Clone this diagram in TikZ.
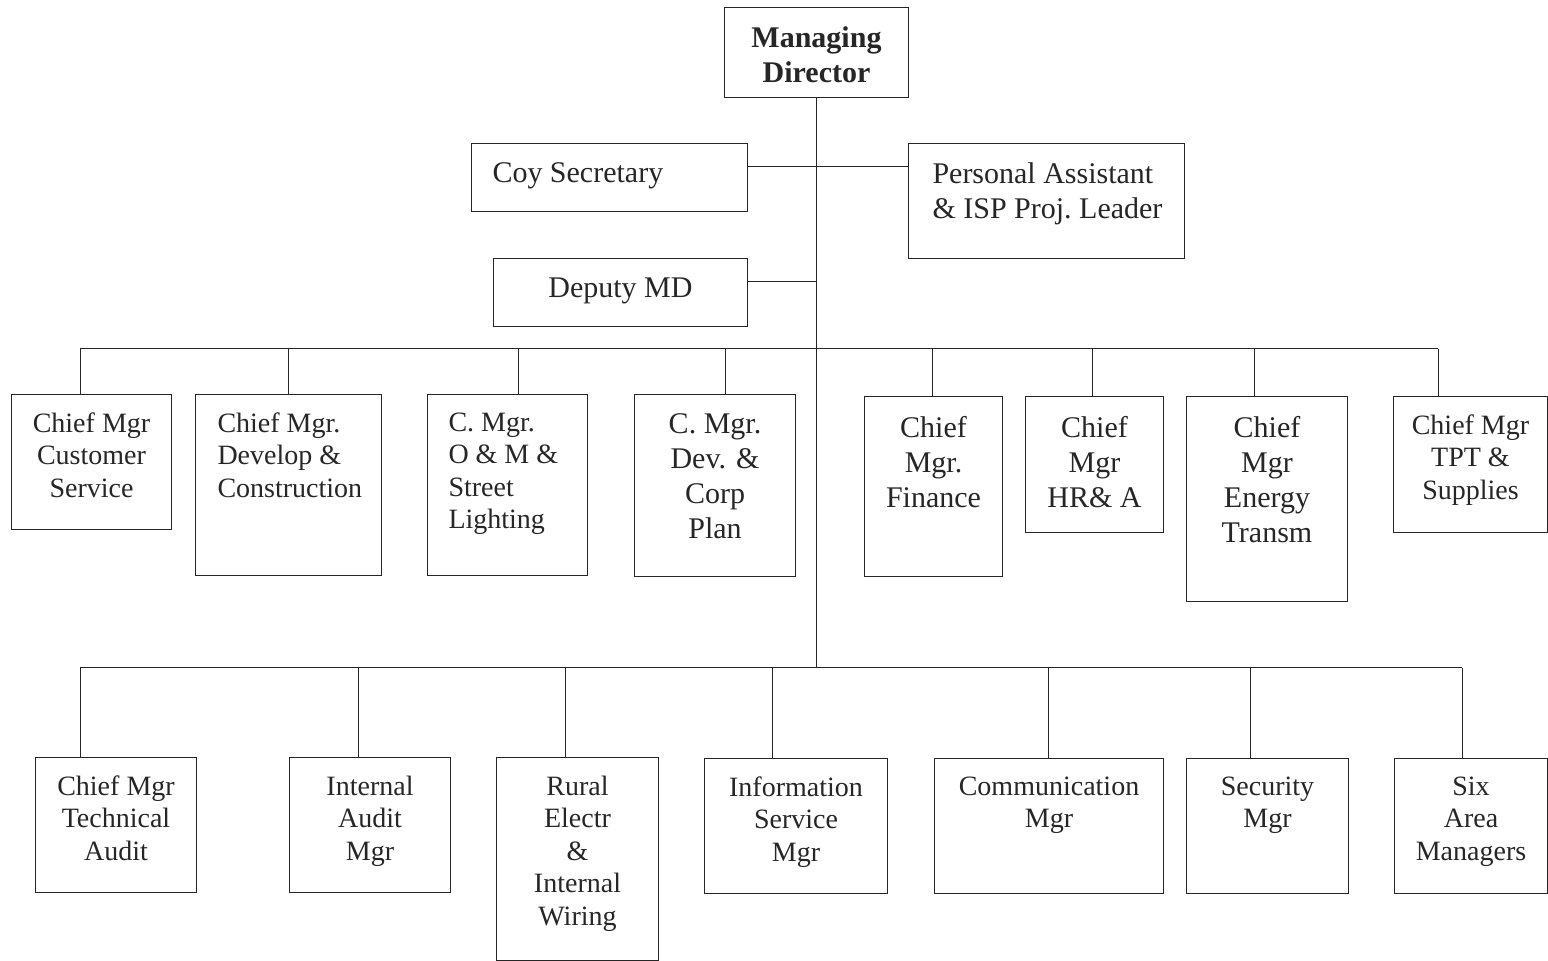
\documentclass[tikz,border=0pt]{standalone}
\usepackage{fontspec}
\setmainfont{Liberation Serif}

% text block of a box: width, height in px, text set from the top
\newcommand\cell[4][\centering]{%
  \begin{minipage}[t][\dimexpr#3pt/2\relax][t]{\dimexpr#2pt/2\relax}%
    #1\vspace*{0.65em}#4%
  \end{minipage}}

\begin{document}
\begin{tikzpicture}[x=0.5pt, y=-0.5pt, line width=0.5pt, draw=black!85, text=black!85,
  unit/.style={draw, inner sep=0pt, anchor=north west, font=\fontsize{14}{16.25}\selectfont},
  big unit/.style={unit, font=\fontsize{15}{17.5}\selectfont}]

\useasboundingbox (0,0) rectangle (1548,961);

% top
\node[big unit] (md) at (724,7) {\cell{184}{90}{\bfseries Managing\\Director}};
\node[big unit] (coy) at (471,143) {\cell[\raggedright\leftskip=10.5pt]{276}{68}{Coy Secretary}};
\node[big unit] (pa) at (908,143) {\cell[\raggedright\leftskip=12pt]{276}{115}{Personal Assistant\\\& ISP Proj.\ Leader}};
\node[big unit] (dep) at (493,258) {\cell{254}{68}{Deputy MD}};

% chief managers
\node[unit] (cust) at (11,394) {\cell{160}{135}{Chief Mgr\\Customer\\Service}};
\node[unit] (dev) at (195,394) {\cell[\raggedright\leftskip=11pt]{186}{181}{Chief Mgr.\\Develop \&\\Construction}};
\node[unit] (om) at (427,394) {\cell[\raggedright\leftskip=10.5pt]{160}{181}{C. Mgr.\\O \& M \&\\Street\\Lighting}};
\node[big unit] (corp) at (634,394) {\cell{161}{182}{C. Mgr.\\Dev. \&\\Corp\\Plan}};
\node[big unit] (fin) at (864,396) {\cell{138}{180}{Chief\\Mgr.\\Finance}};
\node[big unit] (hr) at (1025,396) {\cell{138}{136}{Chief\\Mgr\\HR\& A}};
\node[big unit] (energy) at (1186,396) {\cell{161}{205}{Chief\\Mgr\\Energy\\Transm}};
\node[unit] (tpt) at (1393,396) {\cell{154}{136}{Chief Mgr\\TPT \&\\Supplies}};

% managers
\node[unit] (tech) at (35,757) {\cell{161}{135}{Chief Mgr\\Technical\\Audit}};
\node[unit] (audit) at (289,757) {\cell{161}{135}{Internal\\Audit\\Mgr}};
\node[unit] (rural) at (496,757) {\cell{162}{203}{Rural\\Electr\\\&\\Internal\\Wiring}};
\node[unit] (info) at (704,758) {\cell{183}{135}{Information\\Service\\Mgr}};
\node[unit] (comm) at (934,758) {\cell{229}{135}{Communication\\Mgr}};
\node[unit] (sec) at (1186,758) {\cell{162}{135}{Security\\Mgr}};
\node[unit] (six) at (1394,758) {\cell{153}{135}{Six\\Area\\Managers}};

% lines
\foreach \name/\x in {cust/80, dev/288, om/518, corp/725, fin/932, hr/1092, energy/1254, tpt/1438}{
  \coordinate (u-\name) at (\x,349);
  \draw (u-\name) -- (u-\name |- \name.north);
}
\foreach \name/\x in {tech/80, audit/358, rural/565, info/772, comm/1048, sec/1250, six/1462}{
  \coordinate (l-\name) at (\x,668);
  \draw (l-\name) -- (l-\name |- \name.north);
}
\draw (u-cust) -- (u-tpt);
\draw (l-tech) -- (l-six);
\draw (md.south) -- (md.south |- l-tech);
\draw ([yshift=5.5pt]coy.east) -- ([yshift=5.5pt]coy.east -| pa.west);
\draw ([yshift=5.5pt]dep.east) -- ([yshift=5.5pt]dep.east -| md.south);

\end{tikzpicture}
\end{document}
